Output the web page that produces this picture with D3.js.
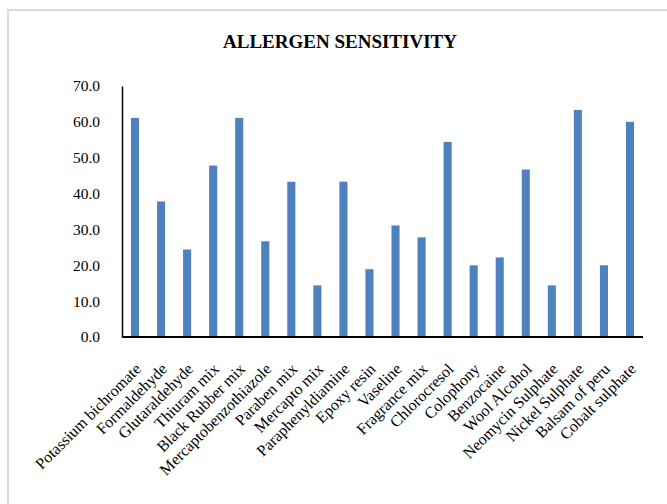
<!DOCTYPE html>
<html><head><meta charset="utf-8">
<script src="https://cdn.jsdelivr.net/npm/d3@7"></script>
<style>body{margin:0;background:#fff;}svg{display:block;} svg text{font-family:"Liberation Serif","Times New Roman",serif;}</style>
</head><body>
<script>
const categories = ["Potassium bichromate","Formaldehyde","Glutaraldehyde","Thiuram mix","Black Rubber mix","Mercaptobenzothiazole","Paraben mix","Mercapto mix","Paraphenyldiamine","Epoxy resin","Vaseline","Fragrance mix","Chlorocresol","Colophony","Benzocaine","Wool Alcohol","Neomycin Sulphate","Nickel Sulphate","Balsam of peru","Cobalt sulphate"];
const values = [61.1,37.8,24.4,47.8,61.1,26.7,43.3,14.4,43.3,18.9,31.1,27.8,54.4,20.0,22.2,46.7,14.4,63.3,20.0,60.0];
const yTicks = [0,10,20,30,40,50,60,70];
const title = "ALLERGEN SENSITIVITY";

(function(){
const W = 667, H = 504;
const svg = d3.select("body").append("svg").attr("width", W).attr("height", H);
svg.append("rect").attr("x",8).attr("y",10).attr("width",700).attr("height",600)
  .attr("fill","#fff").attr("stroke","#d9d9d9").attr("stroke-width",2);

const mLeft = 122, mRight = 643, mTop = 86, mBottom = 337;
const x = d3.scaleBand().domain(categories).range([mLeft, mRight]).paddingInner(0.69).paddingOuter(0.345);
const y = d3.scaleLinear().domain([0,70]).range([mBottom, mTop]);

const font = '"Liberation Serif","Times New Roman",serif';
svg.append("text").attr("x",340).attr("y",48).attr("text-anchor","middle")
  .style("font-family",font).attr("font-weight","bold").attr("font-size",19).text(title);

svg.selectAll("rect.bar").data(values).join("rect").attr("class","bar")
  .attr("x",(d,i)=>x(categories[i])).attr("width",x.bandwidth())
  .attr("y",d=>y(d)).attr("height",d=>mBottom-y(d))
  .attr("fill","#4f81bd");

const yAxis = svg.append("g").attr("transform",`translate(${mLeft},0)`)
  .call(d3.axisLeft(y).tickValues(yTicks).tickFormat(d3.format(".1f")).tickSize(0).tickPadding(22));
yAxis.attr("font-family",null);
yAxis.select(".domain").attr("stroke","#000").attr("stroke-width",1.5);
yAxis.selectAll("text").style("font-family",font).attr("font-size",15.5).attr("fill","#000");

const xAxis = svg.append("g").attr("transform",`translate(0,${mBottom})`)
  .call(d3.axisBottom(x).tickSize(0).tickPadding(0));
xAxis.attr("font-family",null);
xAxis.select(".domain").attr("stroke","#000").attr("stroke-width",2).attr("d",`M${mLeft},0H${mRight}`);
xAxis.selectAll("text").style("font-family",font).attr("font-size",16).attr("fill","#000")
  .attr("text-anchor","end").attr("dy",0).attr("y",0)
  .attr("transform","translate(7,33) rotate(-45)");
})();
</script>
</body></html>
